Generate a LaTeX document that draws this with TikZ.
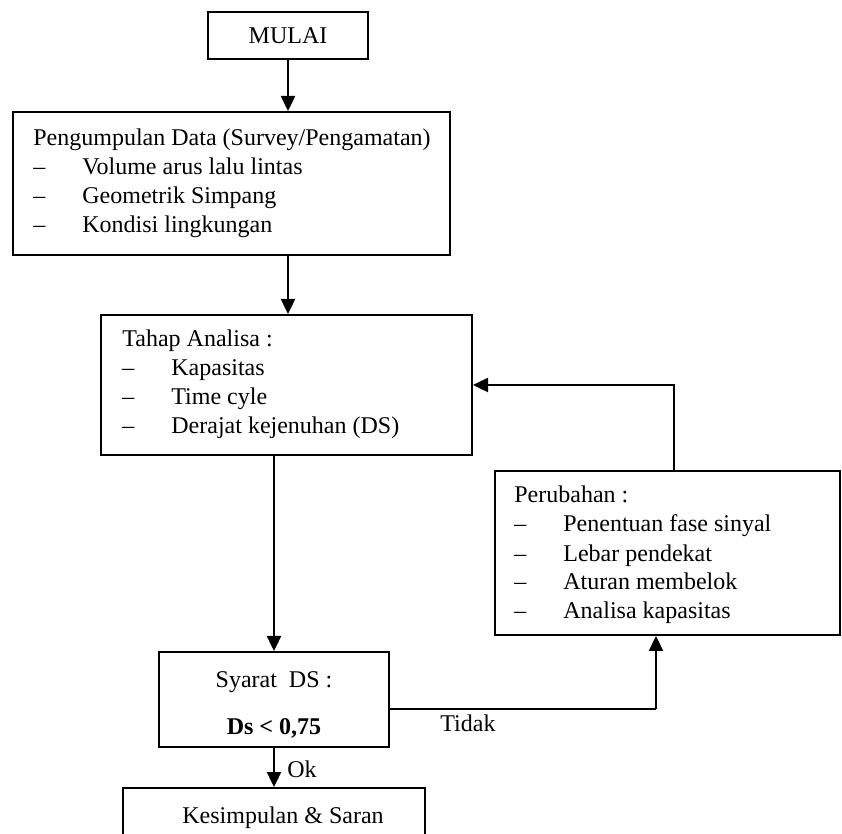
\documentclass[tikz,border=0pt]{standalone}
\usepackage{fontspec}
\setmainfont{Liberation Serif}
\usetikzlibrary{arrows.meta}
\begin{document}
\begin{tikzpicture}[x=0.5pt,y=-0.5pt,
  box/.style={draw, line width=1pt, inner sep=0pt, rectangle},
  txt/.style={inner sep=0pt, anchor=base west, font=\fontsize{12}{14.5}\selectfont},
  ctxt/.style={txt, anchor=base},
  arr/.style={line width=1.2pt, -{Triangle[length=7.5pt,width=7pt]}},
  thinline/.style={line width=0.8pt}]
\path[use as bounding box, clip] (0,0) rectangle (842,834);
% boxes
\node[box, minimum width=80pt, minimum height=23.5pt] (mulai) at (288,35.5) {};
\node[box, minimum width=218.5pt, minimum height=71.5pt] (peng) at (231.5,183.5) {};
\node[box, minimum width=185.5pt, minimum height=70pt] (tahap) at (286.5,385) {};
\node[box, minimum width=172.5pt, minimum height=82pt] (perub) at (667.5,553) {};
\node[box, minimum width=115pt, minimum height=47.5pt] (syarat) at (274,699.5) {};
\node[box, minimum width=151pt, minimum height=32pt] (kes) at (274,820) {};
% texts
\node[ctxt] (mulaitxt) at (288,44) {MULAI};
\node[txt] (pengtxt) at (33,146) {\begin{tabular}[t]{@{}p{24.5pt}@{}l@{}}
\multicolumn{2}{@{}l@{}}{Pengumpulan Data (Survey/Pengamatan)}\\
–& Volume arus lalu lintas\\
–& Geometrik Simpang\\
–& Kondisi lingkungan
\end{tabular}};
\node[txt] (tahaptxt) at (122,347) {\begin{tabular}[t]{@{}p{24.5pt}@{}l@{}}
\multicolumn{2}{@{}l@{}}{Tahap Analisa :}\\
–& Kapasitas\\
–& Time cyle\\
–& Derajat kejenuhan (DS)
\end{tabular}};
\node[txt] (perubtxt) at (514,503) {\begin{tabular}[t]{@{}p{24.5pt}@{}l@{}}
\multicolumn{2}{@{}l@{}}{Perubahan :}\\
–& Penentuan fase sinyal\\
–& Lebar pendekat\\
–& Aturan membelok\\
–& Analisa kapasitas
\end{tabular}};
\node[ctxt] (syarattxt1) at (274,688) {Syarat~~DS :};
\node[ctxt] (syarattxt2) at (274,734) {\textbf{Ds < 0,75}};
\node[ctxt] (kestxt) at (283,823) {Kesimpulan \& Saran};
\node[txt] (tidak) at (440,732) {Tidak};
\node[txt] (ok) at (287,777) {Ok};
% connectors
\coordinate (c1) at (656,709);
\coordinate (c2) at (674,385);
\draw[arr] (mulai.south) -- (mulai.south |- peng.north);
\draw[arr] (mulai.south |- peng.south) -- (mulai.south |- tahap.north);
\draw[arr] (syarat.north |- tahap.south) -- (syarat.north);
\draw[thinline] (syarat.east |- c1) -- (c1);
\draw[arr] (c1) -- (c1 |- perub.south);
\draw[arr] (c2 |- perub.north) -- (c2) -- (c2 -| tahap.east);
\draw[arr] (syarat.south) -- (kes.north);
\end{tikzpicture}
\end{document}
